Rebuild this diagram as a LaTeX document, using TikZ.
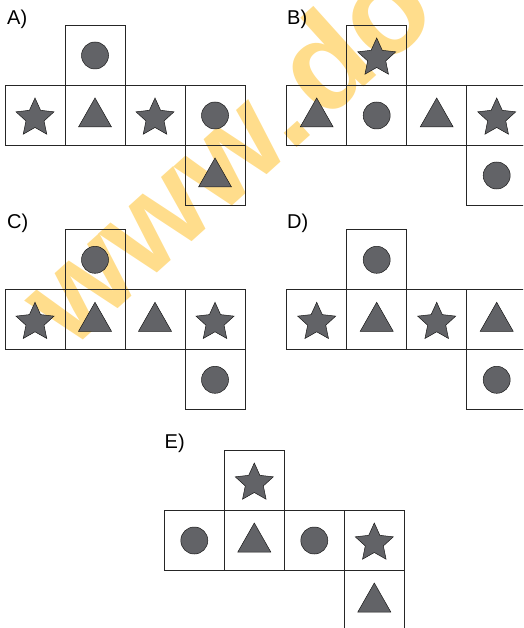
\documentclass[tikz,border=0pt]{standalone}
\usepackage{fontspec}
\setmainfont{Liberation Sans}
\definecolor{shapegray}{RGB}{98,99,103}
\definecolor{wmark}{RGB}{255,221,140}
\tikzset{
  cell/.style={draw=black!85, line width=0.9pt, minimum size=60pt, inner sep=0pt, outer sep=0pt},
  shp/.style={fill=shapegray, draw=black!90, line width=0.5pt},
  lbl/.style={font=\fontsize{20}{20}\selectfont, anchor=base west, inner sep=0pt},
  pics/circ/.style={code={\path[shp] (0pt,-0.5pt) circle (13.5pt);}},
  pics/tri/.style={code={\path[shp] (-16.5pt,-12pt) -- (16.5pt,-12pt) -- (0pt,17pt) -- cycle;}},
  pics/starsh/.style={code={\path[shp,yshift=-3pt] (90:20pt) -- (126:9.5pt) -- (162:20pt) -- (198:9.5pt) -- (234:20pt) -- (270:9.5pt) -- (306:20pt) -- (342:9.5pt) -- (18:20pt) -- (54:9.5pt) -- cycle;}},
}
\newcommand\drawnet[9]{%
  \node[cell] (#1t) at ({#2+90},{#3+30}) {};
  \node[cell] (#1r0) at ({#2+30},{#3+90}) {};
  \node[cell] (#1r1) at ({#2+90},{#3+90}) {};
  \node[cell] (#1r2) at ({#2+150},{#3+90}) {};
  \node[cell] (#1r3) at ({#2+210},{#3+90}) {};
  \node[cell] (#1b) at ({#2+210},{#3+150}) {};
  \pic at (#1t) {#4};
  \pic at (#1r0) {#5};
  \pic at (#1r1) {#6};
  \pic at (#1r2) {#7};
  \pic at (#1r3) {#8};
  \pic at (#1b) {#9};
}
\begin{document}
\begin{tikzpicture}[x=1pt,y=-1pt]
\useasboundingbox (0,0) rectangle (523,628);
\clip (0,0) rectangle (523,628);
\node[rotate=42, anchor=base west, text=wmark, inner sep=0pt, font=\bfseries\fontsize{129}{129}\selectfont] (wm) at (70,352) {www.\hspace{10pt}do};
\node[lbl] (labA) at (7,25) {A)};
\node[lbl] (labB) at (287,25) {B)};
\node[lbl] (labC) at (7,229) {C)};
\node[lbl] (labD) at (287,229) {D)};
\node[lbl] (labE) at (164.5,448) {E)};
\drawnet{A}{5}{25}{circ}{starsh}{tri}{starsh}{circ}{tri}
\drawnet{B}{286.7}{25}{starsh}{tri}{circ}{tri}{starsh}{circ}
\drawnet{C}{5}{229.3}{circ}{starsh}{tri}{tri}{starsh}{circ}
\drawnet{D}{286.7}{229.3}{circ}{starsh}{tri}{starsh}{tri}{circ}
\drawnet{E}{164.3}{450}{starsh}{circ}{tri}{circ}{starsh}{tri}
\end{tikzpicture}
\end{document}
